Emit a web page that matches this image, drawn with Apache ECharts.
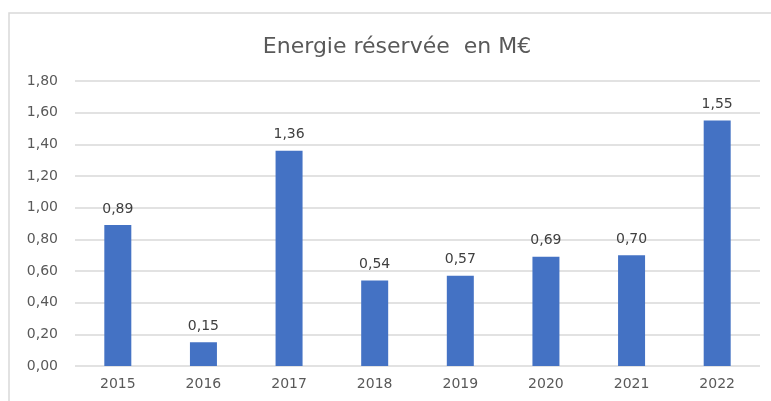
<!DOCTYPE html>
<html>
<head>
<meta charset="utf-8">
<script src="https://cdn.jsdelivr.net/npm/echarts@6/dist/echarts.min.js"></script>
<style>
    html, body { margin: 0; padding: 0; background: #fff; }
    #chart { width: 771px; height: 401px; }
</style>
</head>
<body>
<div id="chart"></div>
<script>
    // données
    var years = ['2015', '2016', '2017', '2018', '2019', '2020', '2021', '2022'];
    var energie = [0.89, 0.15, 1.36, 0.54, 0.57, 0.69, 0.70, 1.55];
    var titre = 'Energie réservée  en M€';

    var chart = echarts.init(document.getElementById('chart'));
    var fmt = function (v) { return Number(v).toFixed(2).replace('.', ','); };

    var option = {
        animation: false,
        textStyle: { fontFamily: 'DejaVu Sans' },
        title: {
            text: titre,
            left: 392,
            textAlign: 'center',
            top: 31,
            textStyle: { fontSize: 22, fontWeight: 'normal', color: '#595959', fontFamily: 'DejaVu Sans' }
        },
        // cadre gris autour du graphique
        graphic: [{
            type: 'rect',
            shape: { x: 9, y: 13, width: 780, height: 400 },
            style: { fill: 'none', stroke: '#d9d9d9', lineWidth: 1.5 },
            silent: true
        }],
        grid: { left: 75, right: 11, top: 81, bottom: 35 },
        xAxis: {
            type: 'category',
            data: years,
            axisLine: { show: false },
            axisTick: { show: false },
            axisLabel: { color: '#595959', fontSize: 14, margin: 11 }
        },
        yAxis: {
            type: 'value',
            min: 0,
            max: 1.8,
            interval: 0.2,
            axisLine: { show: false },
            axisTick: { show: false },
            axisLabel: { color: '#595959', fontSize: 14, margin: 17, formatter: fmt },
            splitLine: { lineStyle: { color: '#d9d9d9', width: 1.5 } }
        },
        series: [{
            type: 'bar',
            data: energie,
            barWidth: 27,
            itemStyle: { color: '#4472C4' },
            label: {
                show: true,
                position: 'top',
                distance: 9,
                color: '#404040',
                fontSize: 14,
                formatter: function (p) { return fmt(p.value); }
            }
        }]
    };
    chart.setOption(option);
</script>
</body>
</html>
